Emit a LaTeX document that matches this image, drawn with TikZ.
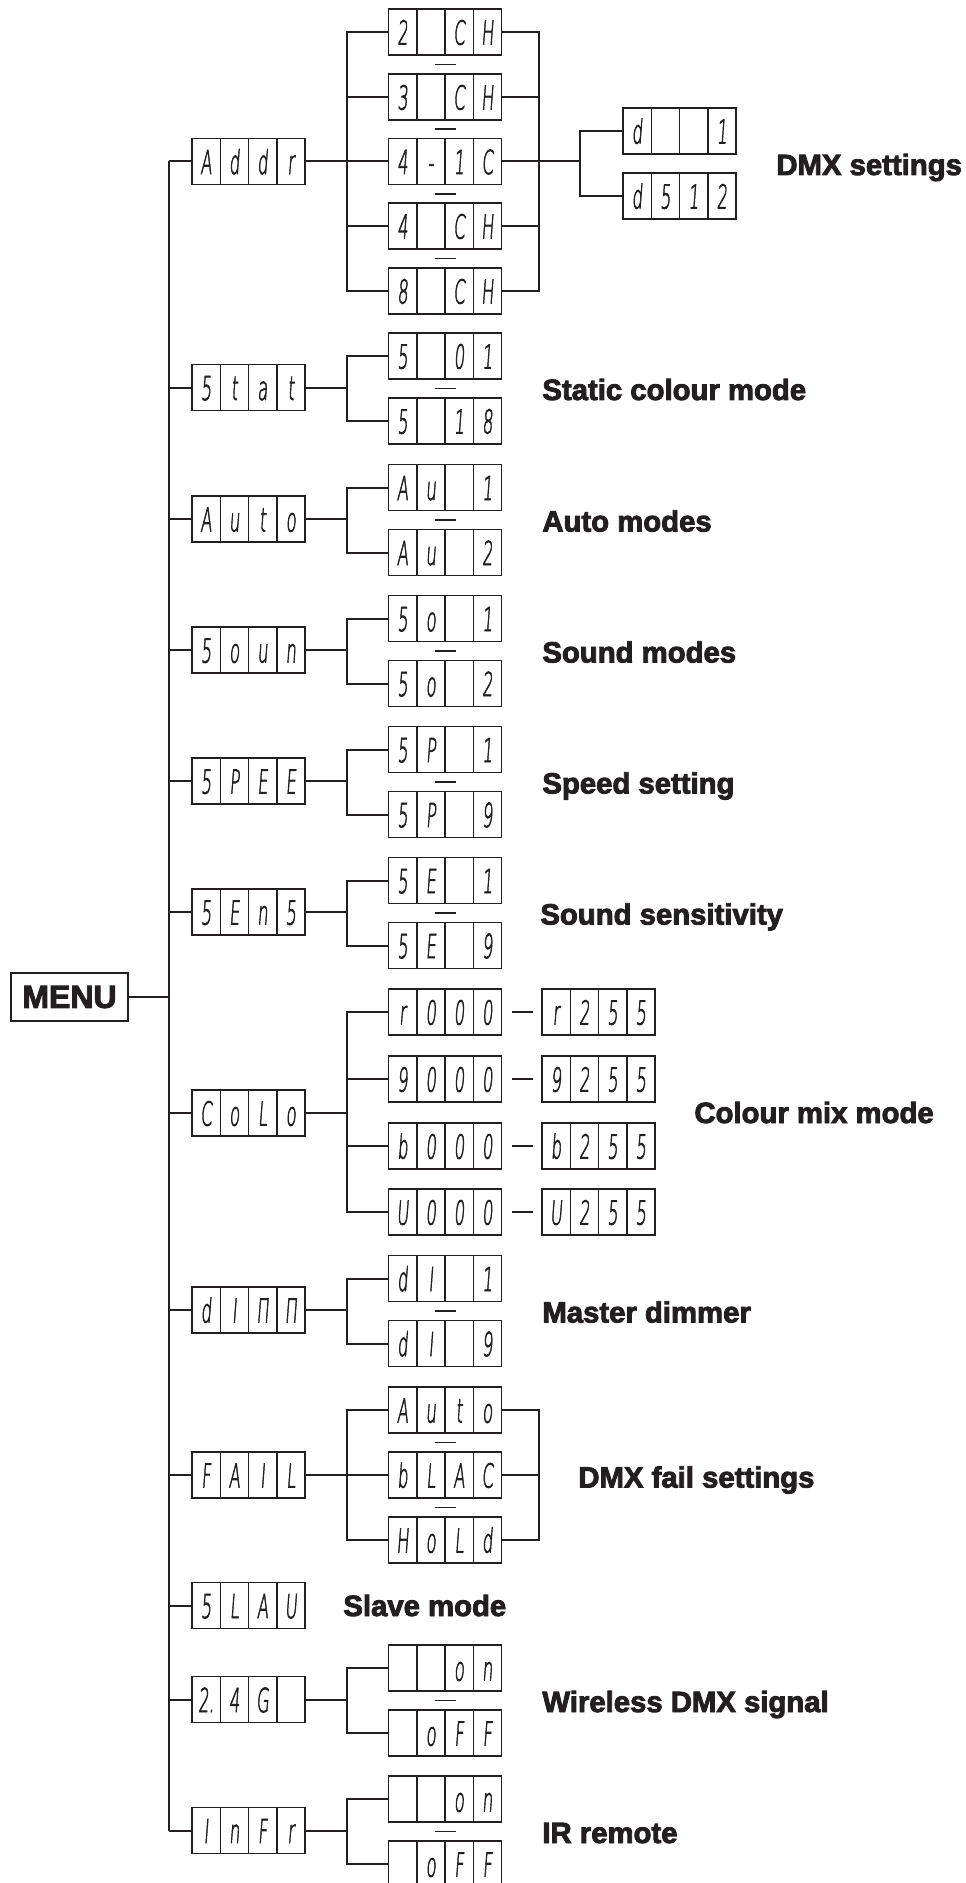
\documentclass[tikz,border=0pt]{standalone}
\usepackage{fontspec}
\setmainfont{Liberation Sans}
\newfontfamily\segfont[FakeSlant=0.15,FakeBold=2.5]{DejaVu Sans ExtraLight}
\newfontfamily\labfont[BoldFeatures={FakeBold=3}]{Liberation Sans}
\usetikzlibrary{calc}
\definecolor{ink}{HTML}{231F20}
\newcommand\segchar[1]{\scalebox{0.5}[1]{#1}}
\newcommand\dispbox[7]{%
  \node[dbox] (#1) at (#2,#3) {};
  \draw[cellline] (#2-28.25,#3-23) -- (#2-28.25,#3+23)
                  (#2,#3-23) -- (#2,#3+23)
                  (#2+28.25,#3-23) -- (#2+28.25,#3+23);
  \node[seg] (#1-a) at (#2-42.4,#3+12.5) {\segchar{#4}};
  \node[seg] (#1-b) at (#2-14.1,#3+12.5) {\segchar{#5}};
  \node[seg] (#1-c) at (#2+14.1,#3+12.5) {\segchar{#6}};
  \node[seg] (#1-d) at (#2+42.4,#3+12.5) {\segchar{#7}};
}
\tikzset{
  dbox/.style={draw=ink, line width=0.9pt, minimum width=56.5pt, minimum height=23pt, inner sep=0pt},
  cellline/.style={draw=ink, line width=0.75pt},
  seg/.style={inner sep=0pt, anchor=base, text=ink, font=\segfont\fontsize{16.5}{17}\selectfont},
  conn/.style={draw=ink, line width=1pt},
  sepmark/.style={draw=ink, line width=0.85pt},
  lab/.style={anchor=base west, inner sep=0pt, text=ink, font=\labfont\bfseries\fontsize{14.65}{16}\selectfont},
}
\begin{document}
\begin{tikzpicture}[x=0.5pt,y=-0.5pt]
\useasboundingbox (0,0) rectangle (965,1883);
\clip (0,0) rectangle (965,1883);
\coordinate (TX) at (169,0);
\coordinate (BX) at (347,0);
\coordinate (RX) at (539,0);
\coordinate (FX) at (580,0);

% MENU
\node[draw=ink, line width=1pt, minimum width=58.5pt, minimum height=24pt, inner sep=0pt, text=ink,
      font=\labfont\bfseries\fontsize{16}{18}\selectfont] (menu) at (69.5,997) {MENU};

% ---- main boxes
\dispbox{addr}{248.5}{161.5}{A}{d}{d}{r}
\dispbox{stat}{248.5}{387.5}{5}{t}{a}{t}
\dispbox{auto}{248.5}{519}{A}{u}{t}{o}
\dispbox{soun}{248.5}{650}{5}{o}{u}{n}
\dispbox{spee}{248.5}{781}{5}{P}{E}{E}
\dispbox{sens}{248.5}{912}{5}{E}{n}{5}
\dispbox{colo}{248.5}{1113}{C}{o}{L}{o}
\dispbox{dimm}{248.5}{1310}{d}{I}{Π}{Π}
\dispbox{fail}{248.5}{1475}{F}{A}{I}{L}
\dispbox{slau}{248.5}{1605.5}{5}{L}{A}{U}
\dispbox{wdmx}{248.5}{1699.5}{2.}{4}{G}{}
\dispbox{infr}{248.5}{1830.5}{I}{n}{F}{r}

% ---- Addr subs
\dispbox{chb}{445}{32}{2}{}{C}{H}
\dispbox{chc}{445}{97}{3}{}{C}{H}
\dispbox{chx}{445}{161.5}{4}{-}{1}{C}
\dispbox{chd}{445}{226}{4}{}{C}{H}
\dispbox{che}{445}{291}{8}{}{C}{H}
\dispbox{dmxa}{679.5}{131}{d}{}{}{1}
\dispbox{dmxb}{679.5}{196}{d}{5}{1}{2}

% ---- two-option subs
\dispbox{sta}{445}{356}{5}{}{0}{1}
\dispbox{stb}{445}{421}{5}{}{1}{8}
\dispbox{aua}{445}{487.5}{A}{u}{}{1}
\dispbox{aub}{445}{552.5}{A}{u}{}{2}
\dispbox{soa}{445}{618.5}{5}{o}{}{1}
\dispbox{sob}{445}{683.5}{5}{o}{}{2}
\dispbox{spa}{445}{749.5}{5}{P}{}{1}
\dispbox{spb}{445}{814.5}{5}{P}{}{9}
\dispbox{sea}{445}{880.5}{5}{E}{}{1}
\dispbox{seb}{445}{945.5}{5}{E}{}{9}
\dispbox{dia}{445}{1278.5}{d}{I}{}{1}
\dispbox{dib}{445}{1343.5}{d}{I}{}{9}
\dispbox{woa}{445}{1668}{}{}{o}{n}
\dispbox{wob}{445}{1733}{}{o}{F}{F}
\dispbox{ioa}{445}{1799}{}{}{o}{n}
\dispbox{iob}{445}{1864}{}{o}{F}{F}

% ---- colour subs
\dispbox{cra}{445}{1012}{r}{0}{0}{0}
\dispbox{crb}{598.5}{1012}{r}{2}{5}{5}
\dispbox{cga}{445}{1079}{9}{0}{0}{0}
\dispbox{cgb}{598.5}{1079}{9}{2}{5}{5}
\dispbox{cba}{445}{1146}{b}{0}{0}{0}
\dispbox{cbb}{598.5}{1146}{b}{2}{5}{5}
\dispbox{cua}{445}{1212}{U}{0}{0}{0}
\dispbox{cub}{598.5}{1212}{U}{2}{5}{5}

% ---- fail subs
\dispbox{faa}{445}{1410}{A}{u}{t}{o}
\dispbox{fab}{445}{1475}{b}{L}{A}{C}
\dispbox{fac}{445}{1540}{H}{o}{L}{d}

% ---- trunk
\draw[conn] (addr.west -| TX) -- (infr.west -| TX);
\draw[conn] (menu.east) -- (menu.east -| TX);
\foreach \m in {addr,stat,auto,soun,spee,sens,colo,dimm,fail,slau,wdmx,infr}
  \draw[conn] (\m.west -| TX) -- (\m.west);

% ---- branches
\foreach \m/\p/\q in {addr/chb/che, stat/sta/stb, auto/aua/aub, soun/soa/sob, spee/spa/spb,
                      sens/sea/seb, colo/cra/cua, dimm/dia/dib, fail/faa/fac, wdmx/woa/wob, infr/ioa/iob} {
  \draw[conn] (\m.east) -- (\m.east -| BX);
  \draw[conn] (\p.west) -- (\p.west -| BX) -- (\q.west -| BX) -- (\q.west);
}
\foreach \s in {chc,chx,chd,cga,cba,fab}
  \draw[conn] (\s.west -| BX) -- (\s.west);

% Addr right side
\draw[conn] (chb.east) -- (chb.east -| RX) -- (che.east -| RX) -- (che.east);
\foreach \s in {chc,chx,chd}
  \draw[conn] (\s.east) -- (\s.east -| RX);
\draw[conn] (chx.east -| RX) -- (chx.east -| FX);
\draw[conn] (dmxa.west) -- (dmxa.west -| FX) -- (dmxb.west -| FX) -- (dmxb.west);

% Fail right side
\draw[conn] (faa.east) -- (faa.east -| RX) -- (fac.east -| RX) -- (fac.east);
\draw[conn] (fab.east) -- (fab.east -| RX);

% ---- separator dashes
\foreach \y in {64.5,129.25,193.75,258.5,388.5,520,651,782,913,1311,1442.5,1507.5,1700.5,1831.5}
  \draw[sepmark] (434.5,\y) -- (455.5,\y);
\foreach \y in {1012,1079,1146,1212}
  \draw[sepmark] (512,\y) -- (533,\y);

% ---- labels
\node[lab] (l1) at (776,175) {DMX settings};
\node[lab] (l2) at (542,400) {Static colour mode};
\node[lab] (l3) at (542,531.5) {Auto modes};
\node[lab] (l4) at (542,662.5) {Sound modes};
\node[lab] (l5) at (542,793.5) {Speed setting};
\node[lab] (l6) at (540,924.5) {Sound sensitivity};
\node[lab] (l7) at (694,1123) {Colour mix mode};
\node[lab] (l8) at (542,1322.5) {Master dimmer};
\node[lab] (l9) at (578,1487.5) {DMX fail settings};
\node[lab] (l10) at (343,1616) {Slave mode};
\node[lab] (l11) at (542,1712) {Wireless DMX signal};
\node[lab] (l12) at (542,1843) {IR remote};
\end{tikzpicture}
\end{document}
